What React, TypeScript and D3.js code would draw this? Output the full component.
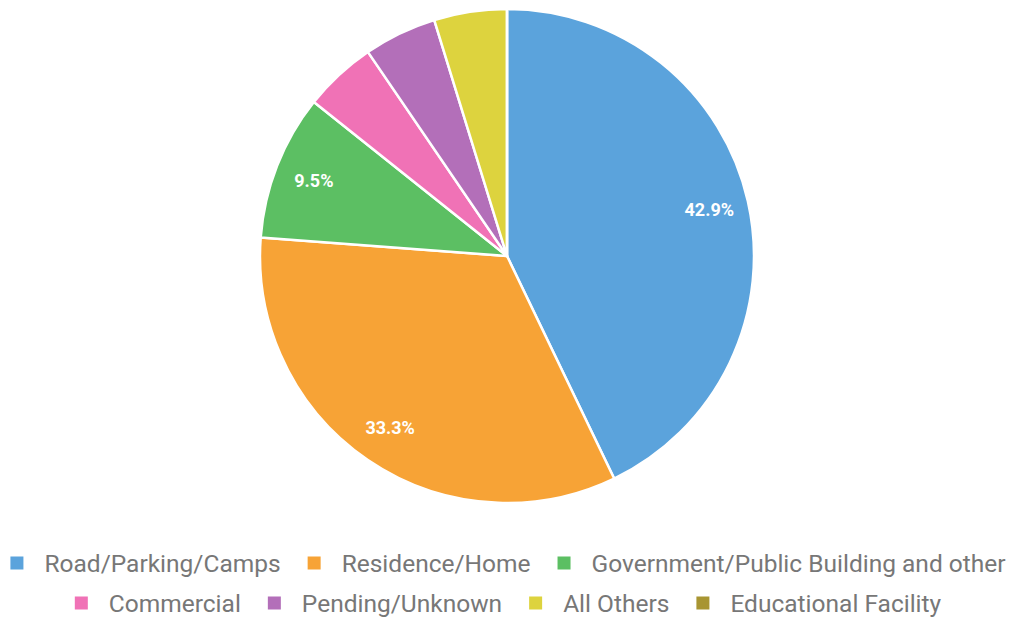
import React, { useEffect, useRef, useState } from "react";
import * as d3 from "d3";

const categories = [
  "Road/Parking/Camps",
  "Residence/Home",
  "Government/Public Building and other",
  "Commercial",
  "Pending/Unknown",
  "All Others",
  "Educational Facility",
];
const values = [9, 7, 2, 1, 1, 1, 0];
const colors = ["#5ba3dc", "#f7a336", "#5cbf63", "#f072b6", "#b36fb9", "#ddd33e", "#a89532"];
const legendRows = [[0, 1, 2], [3, 4, 5, 6]];

const W = 1013;
const H = 618;
const cx = 507;
const cy = 256;
const R = 247;

export default function App() {
  const legendRef = useRef<SVGGElement | null>(null);
  const [widths, setWidths] = useState<number[] | null>(null);

  useEffect(() => {
    if (!legendRef.current) return;
    const texts = legendRef.current.querySelectorAll("text");
    const w: number[] = [];
    texts.forEach((t) => w.push((t as SVGTextElement).getComputedTextLength()));
    setWidths(w);
  }, []);

  const total = d3.sum(values);
  const pie = d3.pie<number>().sort(null).value((d) => d)(values);
  const arc = d3.arc<d3.PieArcDatum<number>>().innerRadius(0).outerRadius(R);
  const labelArc = d3.arc<d3.PieArcDatum<number>>().innerRadius(R * 0.84).outerRadius(R * 0.84);

  const marker = 13;
  const markerGap = 21;
  const itemGap = 27;
  const rowY = [563, 603];

  const legendItems: React.ReactNode[] = [];
  legendRows.forEach((row, ri) => {
    const ws = row.map((i) => (widths ? widths[i] : 100));
    const rowW = d3.sum(ws) + row.length * (marker + markerGap) + (row.length - 1) * itemGap;
    let x = 508 - rowW / 2;
    row.forEach((i, k) => {
      legendItems.push(
        <rect key={"m" + i} x={x} y={rowY[ri] - marker / 2} width={marker} height={marker} fill={colors[i]} />
      );
      legendItems.push(
        <text key={"t" + i} x={x + marker + markerGap} y={rowY[ri]} dy="0.35em"
          fontSize={24.5} fill="#777" fontFamily="Roboto, sans-serif">
          {categories[i]}
        </text>
      );
      x += marker + markerGap + ws[k] + itemGap;
    });
  });

  return (
    <svg width={W} height={H} style={{ position: "absolute", left: 0, top: 0, background: "#fff" }}>
      <g transform={`translate(${cx},${cy})`}>
        {pie.map((p, i) => (
          <path key={i} d={arc(p) || ""} fill={colors[i]} stroke="#fff" strokeWidth={2.5} strokeLinejoin="round" />
        ))}
        {pie.map((p, i) => {
          const pct = (p.data / total) * 100;
          if (pct < 6) return null;
          const [lx, ly] = labelArc.centroid(p);
          return (
            <text key={"l" + i} x={lx} y={ly} dy="0.35em" textAnchor="middle" fill="#fff"
              fontSize={18} fontWeight="bold" fontFamily="Roboto, sans-serif">
              {pct.toFixed(1) + "%"}
            </text>
          );
        })}
      </g>
      <g ref={legendRef}>{legendItems}</g>
    </svg>
  );
}
